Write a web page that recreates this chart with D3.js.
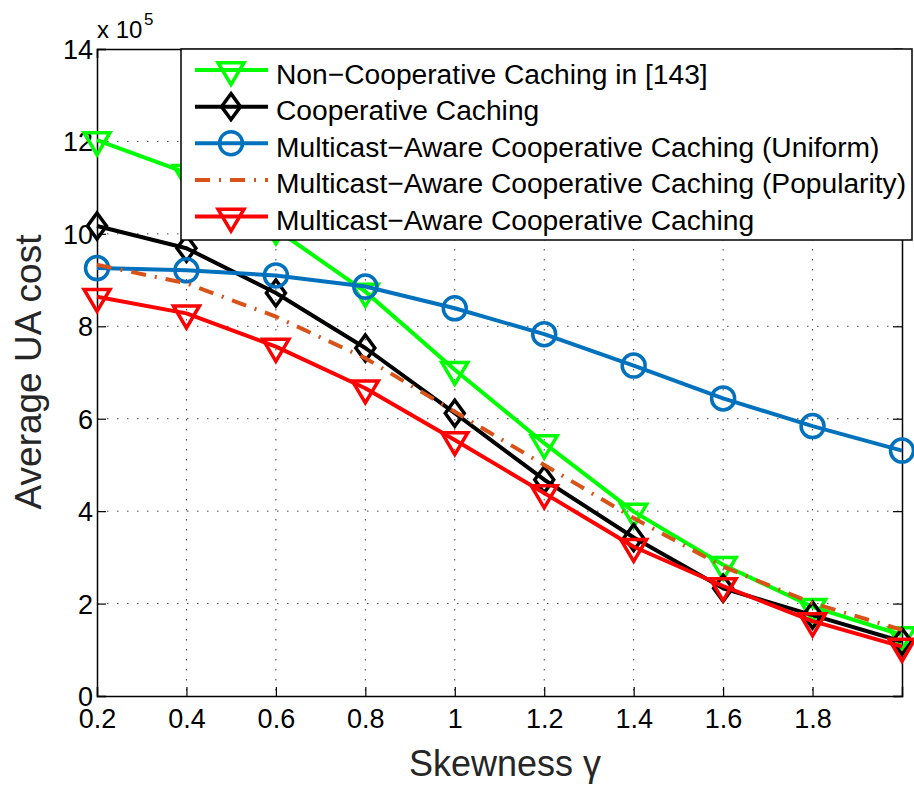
<!DOCTYPE html>
<html><head><meta charset="utf-8">
<script src="https://cdn.jsdelivr.net/npm/d3@7/dist/d3.min.js"></script>
<style>
html,body{margin:0;padding:0;background:#fff;}
svg{display:block;}
text{font-family:"Liberation Sans",Arial,Helvetica,sans-serif;}
</style></head>
<body><svg id="chart" width="914" height="789"></svg>
<script>
// ---- data (values in units of 10^5) ----
const skewness = [0.2,0.4,0.6,0.8,1.0,1.2,1.4,1.6,1.8,2.0];
const nonCooperative = [12.03,11.32,10.1,8.75,7.06,5.47,3.99,2.84,1.93,1.32];
const cooperative = [10.17,9.69,8.72,7.53,6.12,4.68,3.43,2.33,1.75,1.18];
const multicastUniform = [9.26,9.21,9.10,8.86,8.39,7.83,7.15,6.44,5.84,5.31];
const multicastPopularity = [9.33,8.93,8.21,7.31,6.15,5.00,3.85,2.80,2.01,1.43];
const multicastAware = [8.64,8.28,7.56,6.66,5.54,4.39,3.23,2.38,1.62,1.07];
const xTicks = [0.2,0.4,0.6,0.8,1.0,1.2,1.4,1.6,1.8];
const yTicks = [0,2,4,6,8,10,12,14];
const seriesNames = ["Non\u2212Cooperative Caching in [143]","Cooperative Caching","Multicast\u2212Aware Cooperative Caching (Uniform)","Multicast\u2212Aware Cooperative Caching (Popularity)","Multicast\u2212Aware Cooperative Caching"];

const series = [
  {name:seriesNames[0], values:nonCooperative, color:"#00ff00", marker:"tri", dash:null},
  {name:seriesNames[1], values:cooperative, color:"#000000", marker:"diamond", dash:null},
  {name:seriesNames[2], values:multicastUniform, color:"#0072bd", marker:"circle", dash:null},
  {name:seriesNames[3], values:multicastPopularity, color:"#d95319", marker:null, dash:"15,9,2,9"},
  {name:seriesNames[4], values:multicastAware, color:"#ff0000", marker:"tri", dash:null}
];

const L=97, R=902, T=49, B=696;
const svg = d3.select("#chart");
const x = d3.scaleLinear().domain([0.2,2.0]).range([L,R]);
const y = d3.scaleLinear().domain([0,14]).range([B,T]);

// grid
const grid = svg.append("g");
grid.selectAll(".gx").data(xTicks.slice(1)).join("line")
  .attr("x1",d=>x(d)).attr("x2",d=>x(d)).attr("y1",T).attr("y2",B)
  .attr("stroke","#444").attr("stroke-width",1).attr("stroke-dasharray","1.5,8.5");
grid.selectAll(".gy").data(yTicks.slice(1,-1)).join("line")
  .attr("x1",L).attr("x2",R).attr("y1",d=>y(d)).attr("y2",d=>y(d))
  .attr("stroke","#444").attr("stroke-width",1).attr("stroke-dasharray","1.5,8.5");

// axes (inward ticks, boxed)
const tickLen = 9;
const axB = svg.append("g").attr("transform",`translate(0,${B})`)
  .call(d3.axisBottom(x).tickValues(xTicks).tickSize(-tickLen).tickPadding(13).tickFormat(d3.format("~g")));
const axT = svg.append("g").attr("transform",`translate(0,${T})`)
  .call(d3.axisTop(x).tickValues(xTicks).tickSize(-tickLen).tickFormat(""));
const axL = svg.append("g").attr("transform",`translate(${L},0)`)
  .call(d3.axisLeft(y).tickValues(yTicks).tickSize(-tickLen).tickPadding(4).tickFormat(d3.format("~g")));
const axR = svg.append("g").attr("transform",`translate(${R},0)`)
  .call(d3.axisRight(y).tickValues(yTicks).tickSize(-tickLen).tickFormat(""));
[axB,axT,axL,axR].forEach(a=>{
  a.select(".domain").attr("stroke","#000").attr("stroke-width",1.5);
  a.selectAll(".tick line").attr("stroke","#000").attr("stroke-width",1.2);
  a.selectAll("text").attr("font-size",27).attr("fill","#000")
   .style("font-family","'Liberation Sans',Arial,Helvetica,sans-serif");
});
axB.selectAll(".tick text").attr("dy","0.71em");
axL.selectAll(".tick text").attr("dy","0.35em");

// exponent label
const ex = svg.append("text").attr("x",97).attr("y",38).attr("font-size",24).attr("fill","#000");
ex.append("tspan").text("x 10");
ex.append("tspan").attr("x",144).attr("y",25).attr("font-size",17).text("5");

// axis labels
svg.append("text").attr("x",505).attr("y",776).attr("text-anchor","middle")
  .attr("font-size",36).attr("fill","#262626").text("Skewness \u03b3");
svg.append("text").attr("transform","translate(41,372) rotate(-90)").attr("text-anchor","middle")
  .attr("font-size",37).attr("fill","#262626").text("Average UA cost");

// marker drawing
function drawMarker(g, type, cx, cy, color){
  if(type==="tri"){
    const w=26, h=22;
    g.append("path").attr("d",`M${cx-w/2},${cy-h/3} L${cx+w/2},${cy-h/3} L${cx},${cy+2*h/3} Z`)
      .attr("fill","none").attr("stroke",color).attr("stroke-width",3.5).attr("stroke-linejoin","miter");
  } else if(type==="diamond"){
    const w=19, h=26;
    g.append("path").attr("d",`M${cx},${cy-h/2} L${cx+w/2},${cy} L${cx},${cy+h/2} L${cx-w/2},${cy} Z`)
      .attr("fill","none").attr("stroke",color).attr("stroke-width",3.5);
  } else if(type==="circle"){
    g.append("circle").attr("cx",cx).attr("cy",cy).attr("r",11.5)
      .attr("fill","none").attr("stroke",color).attr("stroke-width",3.5);
  }
}

const line = d3.line().x((d,i)=>x(skewness[i])).y(d=>y(d));
const plot = svg.append("g");
series.forEach(s=>{
  const g = plot.append("g");
  g.append("path").attr("d",line(s.values)).attr("fill","none").attr("stroke",s.color)
    .attr("stroke-width",4).attr("stroke-dasharray",s.dash).attr("stroke-linejoin","round");
  if(s.marker) s.values.forEach((v,i)=>drawMarker(g,s.marker,x(skewness[i]),y(v),s.color));
});

// legend
const lg = svg.append("g");
lg.append("rect").attr("x",181).attr("y",49).attr("width",731).attr("height",191)
  .attr("fill","#fff").attr("stroke","#000").attr("stroke-width",1.5);
const rowY = d3.scaleLinear().domain([0,4]).range([70,216.5]);
series.forEach((s,i)=>{
  const yy = rowY(i);
  lg.append("line").attr("x1",195).attr("x2",268).attr("y1",yy).attr("y2",yy)
    .attr("stroke",s.color).attr("stroke-width",4).attr("stroke-dasharray",s.dash);
  if(s.marker) drawMarker(lg,s.marker,231,yy,s.color);
  lg.append("text").attr("x",276).attr("y",yy).attr("dy","0.48em").attr("font-size",28.2)
    .attr("fill","#000").text(s.name);
});
</script></body></html>
